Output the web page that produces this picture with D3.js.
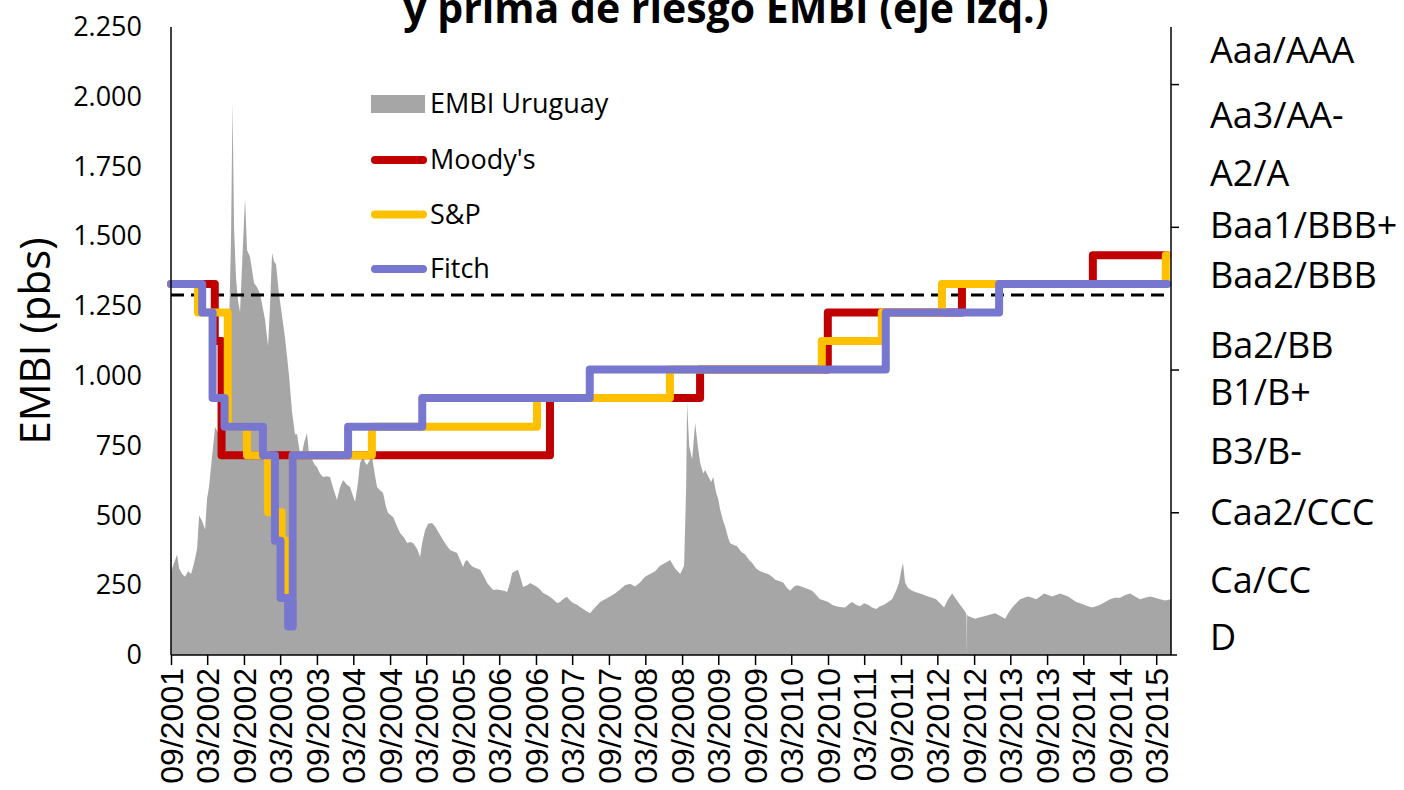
<!DOCTYPE html>
<meta charset="UTF-8">
<style>
body { margin: 0; background: #fff; }
svg { display: block; background: #fff; }
.axis path, .axis line { stroke: #000; stroke-width: 1.5px; }
.ylab text { font: 27px "Open Sans", sans-serif; fill: #000; }
.xlab text { font: 32px "Liberation Sans", Arial, sans-serif; fill: #000; }
.rating { font: 36px "Open Sans", sans-serif; fill: #000; }
.legend text { font: 27px "Open Sans", sans-serif; fill: #000; }
</style>
<body>
<script src="https://d3js.org/d3.v7.min.js"></script>
<script>
// EMBI Uruguay spread (pbs), dates as decimal years
var embiTime = [
 2001.667,2001.708,2001.749,2001.777,2001.818,2001.859,2001.900,2001.941,2001.982,2002.023,
 2002.051,2002.092,2002.133,2002.160,2002.188,2002.229,2002.270,2002.325,2002.366,2002.407,
 2002.448,2002.468,2002.489,2002.509,2002.530,2002.557,2002.585,2002.612,2002.640,2002.667,
 2002.681,2002.708,2002.749,2002.804,2002.845,2002.886,2002.927,2002.955,2002.996,2003.023,
 2003.051,2003.078,2003.105,2003.146,2003.188,2003.229,2003.283,2003.325,2003.366,2003.393,
 2003.434,2003.462,2003.489,2003.530,2003.557,2003.599,2003.640,2003.667,2003.708,2003.749,
 2003.804,2003.845,2003.886,2003.941,2003.982,2004.023,2004.078,2004.119,2004.160,2004.188,
 2004.229,2004.256,2004.297,2004.325,2004.352,2004.393,2004.420,2004.462,2004.489,2004.530,
 2004.571,2004.612,2004.640,2004.681,2004.708,2004.763,2004.804,2004.859,2004.900,2004.941,
 2004.982,2005.037,2005.078,2005.105,2005.146,2005.188,2005.242,2005.283,2005.311,2005.352,
 2005.393,2005.448,2005.489,2005.544,2005.585,2005.626,2005.667,2005.694,2005.722,2005.763,
 2005.804,2005.859,2005.900,2005.955,2005.996,2006.037,2006.078,2006.133,2006.174,2006.229,
 2006.270,2006.311,2006.338,2006.379,2006.420,2006.462,2006.489,2006.544,2006.585,2006.640,
 2006.681,2006.722,2006.763,2006.818,2006.859,2006.900,2006.955,2006.996,2007.023,2007.064,
 2007.092,2007.133,2007.174,2007.229,2007.270,2007.338,2007.407,2007.475,2007.544,2007.612,
 2007.681,2007.749,2007.818,2007.886,2007.955,2008.023,2008.092,2008.160,2008.229,2008.297,
 2008.366,2008.434,2008.503,2008.571,2008.640,2008.694,2008.722,2008.735,2008.763,2008.804,
 2008.845,2008.886,2008.914,2008.955,2008.982,2009.023,2009.064,2009.092,2009.133,2009.160,
 2009.188,2009.229,2009.256,2009.297,2009.325,2009.366,2009.420,2009.475,2009.530,2009.585,
 2009.626,2009.681,2009.735,2009.790,2009.845,2009.900,2009.941,2009.996,2010.051,2010.105,
 2010.146,2010.201,2010.242,2010.297,2010.352,2010.407,2010.448,2010.503,2010.557,2010.612,
 2010.667,2010.722,2010.777,2010.831,2010.900,2010.941,2010.996,2011.051,2011.105,2011.160,
 2011.215,2011.270,2011.325,2011.379,2011.434,2011.489,2011.544,2011.599,2011.640,2011.667,
 2011.694,2011.722,2011.763,2011.818,2011.872,2011.927,2011.982,2012.037,2012.092,2012.146,
 2012.201,2012.256,2012.311,2012.366,2012.407,2012.448,2012.489,2012.530,2012.557,2012.563,
 2012.567,2012.571,2012.585,2012.626,2012.681,2012.749,2012.818,2012.886,2012.955,2013.023,
 2013.092,2013.133,2013.188,2013.242,2013.297,2013.352,2013.407,2013.462,2013.516,2013.571,
 2013.626,2013.681,2013.735,2013.790,2013.845,2013.900,2013.955,2014.009,2014.064,2014.119,
 2014.174,2014.229,2014.283,2014.338,2014.393,2014.462,2014.530,2014.599,2014.667,2014.735,
 2014.804,2014.872,2014.941,2015.009,2015.078,2015.146,2015.215,2015.283,2015.366
];
var embiValue = [
 300,330,360,310,290,280,300,290,330,380,
 500,480,450,560,605,713,817,790,896,924,
 1000,1250,1500,1980,1530,1350,1268,1229,1397,1560,
 1637,1451,1426,1333,1318,1293,1240,1200,1107,1250,
 1440,1410,1400,1293,1215,1136,1003,871,790,792,
 720,724,760,795,720,700,680,674,650,638,
 640,638,600,555,600,627,610,602,570,548,
 620,688,710,690,681,700,710,640,602,590,
 580,530,509,500,494,460,437,420,401,405,
 401,380,351,400,448,470,473,460,448,430,
 412,390,376,370,365,340,315,335,340,325,
 315,310,305,280,258,245,233,235,233,230,
 226,260,294,300,305,270,244,250,258,250,
 244,235,222,215,208,200,186,190,197,205,
 208,195,186,180,172,160,150,170,190,200,
 210,220,235,250,255,245,260,280,290,300,
 320,330,340,310,290,320,600,906,750,700,
 831,740,688,650,663,640,620,638,580,560,
 520,480,460,420,400,395,390,370,360,340,
 330,310,300,295,290,280,270,265,260,240,
 230,245,250,245,240,235,230,215,200,195,
 190,180,175,172,170,180,190,180,175,185,
 180,170,165,175,180,190,200,230,260,300,
 330,260,240,230,225,220,215,210,205,200,
 185,170,200,220,205,190,175,160,150,140,
 0,145,140,135,130,135,140,145,150,140,
 130,150,170,185,200,205,210,205,200,210,
 220,215,210,215,220,215,210,200,190,185,
 180,175,170,175,180,190,200,205,205,215,
 220,210,200,205,210,205,200,195,200
];

// Ratings (numeric notch: 1 = D ... 22 = AAA), step series
var moodysDates = ["2001-09-01","2002-04-08","2002-05-12","2006-11-10","2008-11-30","2010-08-31","2012-07-02","2014-04-18","2015-04-25"];
var moodysLevels = [13, 11, 7, 9, 10, 12, 13, 14, 14];
var spDates = ["2001-09-01","2002-01-14","2002-06-12","2002-09-16","2002-12-30","2003-03-08","2003-04-03","2003-05-03","2004-06-02","2006-09-06","2008-07-02","2010-08-01","2011-05-28","2012-03-24","2015-04-18","2015-04-25"];
var spLevels = [13, 12, 8, 7, 5, 4, 2, 7, 8, 9, 10, 11, 12, 13, 14, 14];
var fitchDates = ["2001-09-01","2002-02-04","2002-03-28","2002-05-27","2002-12-05","2003-02-03","2003-03-03","2003-04-10","2003-05-03","2004-02-04","2005-02-09","2007-05-28","2011-06-17","2013-01-04","2015-04-25"];
var fitchLevels = [13, 12, 9, 8, 7, 4, 2, 1, 7, 8, 9, 10, 12, 13, 13];

var refLevel = 1290; // dashed line, left axis
var yTicks = [0, 250, 500, 750, 1000, 1250, 1500, 1750, 2000, 2250];
var ratingLabels = ["Aaa/AAA","Aa3/AA-","A2/A","Baa1/BBB+","Baa2/BBB","Ba2/BB","B1/B+","B3/B-","Caa2/CCC","Ca/CC","D"];
var ratingLabelPos = [21.2, 18.9, 16.9, 15.05, 13.3, 10.85, 9.2, 7.15, 5.0, 2.63, 0.62];
var titleText = "y prima de riesgo EMBI (eje izq.)";

var W = 1404, H = 790;
var parse = d3.timeParse("%Y-%m-%d");
function fromYear(t) {
  var y = Math.floor(t), a = new Date(y, 0, 1), b = new Date(y + 1, 0, 1);
  return new Date(+a + (t - y) * (b - a));
}

var x = d3.scaleTime().domain([new Date(2001, 8, 1), new Date(2015, 4, 14)]).range([171, 1171]);
var yL = d3.scaleLinear().domain([0, 2250]).range([655, 27]);
var yR = d3.scaleLinear().domain([0, 22]).range([655, 27]);

var svg = d3.select("body").append("svg").attr("width", W).attr("height", H);

// EMBI area
var embi = embiTime.map(function(t, i) { return {d: fromYear(t), v: embiValue[i]}; });
svg.append("path").datum(embi)
  .attr("fill", "#a6a6a6")
  .attr("d", d3.area().x(function(d) { return x(d.d); }).y0(yL(0)).y1(function(d) { return yL(d.v); }));

// reference dashed line
svg.append("line")
  .attr("x1", x.range()[0]).attr("x2", x.range()[1])
  .attr("y1", yL(refLevel)).attr("y2", yL(refLevel))
  .attr("stroke", "#000").attr("stroke-width", 3).attr("stroke-dasharray", "13,7");

// rating step lines
var stepLine = d3.line().curve(d3.curveStepAfter)
  .x(function(d) { return x(d.d); }).y(function(d) { return yR(d.l); });
var series = [
  {name: "Moody's", color: "#c00000", dates: moodysDates, levels: moodysLevels},
  {name: "S&P", color: "#ffc000", dates: spDates, levels: spLevels},
  {name: "Fitch", color: "#7777cf", dates: fitchDates, levels: fitchLevels}
];
series.forEach(function(s) {
  var pts = s.dates.map(function(d, i) { return {d: parse(d), l: s.levels[i]}; });
  svg.append("path").datum(pts)
    .attr("fill", "none").attr("stroke", s.color).attr("stroke-width", 8)
    .attr("stroke-linejoin", "round").attr("stroke-linecap", "round")
    .attr("d", stepLine);
});

// axes
var fmt = d3.formatLocale({decimal: ",", thousands: ".", grouping: [3], currency: ["$", ""]}).format(",");
var gl = svg.append("g").attr("class", "axis ylab").attr("transform", "translate(171,0)")
  .call(d3.axisLeft(yL).tickValues(yTicks).tickSize(0).tickPadding(29).tickFormat(fmt));
gl.select(".domain").attr("d", "M0," + yL(2250) + "V" + yL(0));

var gr = svg.append("g").attr("class", "axis").attr("transform", "translate(1171,0)")
  .call(d3.axisRight(yR).tickValues([5, 10, 15, 20]).tickSize(8).tickFormat(""));
gr.select(".domain").attr("d", "M0," + yR(22) + "V" + yR(0));

var tickDates = d3.range(0, 28).map(function(k) { return d3.timeMonth.offset(new Date(2001, 8, 1), 6 * k); });
var gb = svg.append("g").attr("class", "axis xlab").attr("transform", "translate(0,655)")
  .call(d3.axisBottom(x).tickValues(tickDates).tickSize(10).tickFormat(d3.timeFormat("%m/%Y")));
gb.select(".domain").attr("d", "M171,0H1177");
gb.selectAll("text")
  .attr("transform", "rotate(-90)")
  .attr("text-anchor", "end")
  .attr("x", -13).attr("y", 0).attr("dy", "0.35em");

// right-hand rating labels
svg.append("g").selectAll("text").data(ratingLabels).enter().append("text")
  .attr("class", "rating")
  .attr("x", 1210)
  .attr("y", function(d, i) { return yR(ratingLabelPos[i]); })
  .attr("dy", "0.36em")
  .text(function(d) { return d; });

// y title
svg.append("text")
  .attr("transform", "translate(50,341) rotate(-90)")
  .attr("text-anchor", "middle")
  .style("font", "42px 'Open Sans', sans-serif")
  .text("EMBI (pbs)");

// title (upper part falls outside the picture, as in the original)
svg.append("text")
  .attr("x", 726).attr("y", 23)
  .attr("text-anchor", "middle")
  .style("font", "bold 41px 'Open Sans', sans-serif")
  .text(titleText);

// legend
var lg = svg.append("g").attr("class", "legend");
lg.append("rect").attr("x", 371).attr("y", 95).attr("width", 54).attr("height", 18).attr("fill", "#a6a6a6");
lg.append("text").attr("x", 430).attr("y", 104).attr("dy", "0.35em").text("EMBI Uruguay");
series.forEach(function(s, i) {
  var cy = 160 + i * 54.5;
  lg.append("line").attr("x1", 375).attr("x2", 423).attr("y1", cy).attr("y2", cy)
    .attr("stroke", s.color).attr("stroke-width", 8).attr("stroke-linecap", "round");
  lg.append("text").attr("x", 430).attr("y", cy).attr("dy", "0.35em").text(s.name);
});
</script>
</body>
